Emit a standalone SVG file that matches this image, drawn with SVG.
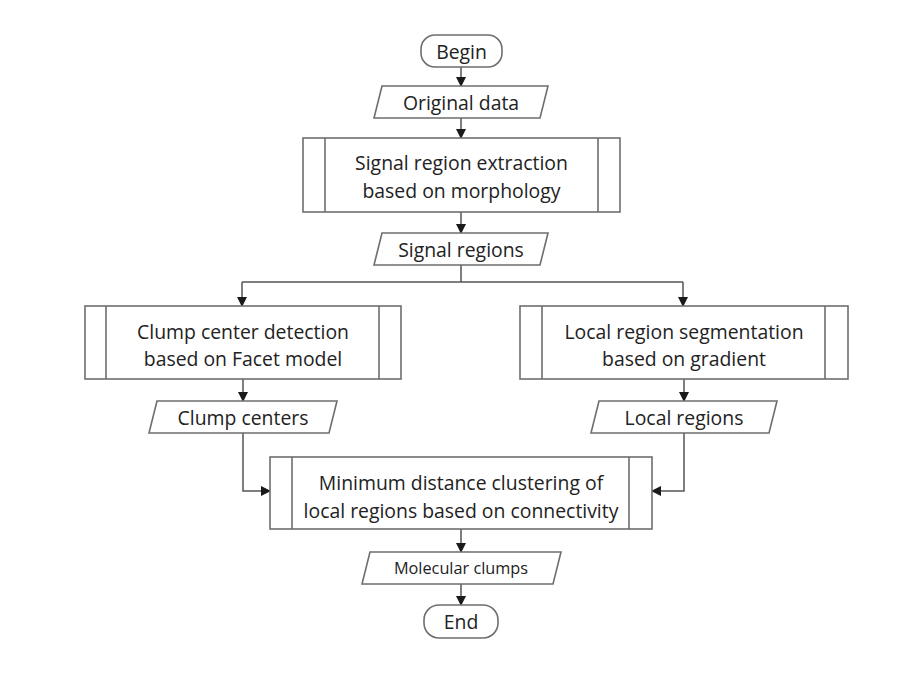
<svg xmlns="http://www.w3.org/2000/svg" width="913" height="685" viewBox="0 0 913 685">
<defs>
<marker id="ah" markerWidth="10" markerHeight="10" refX="9" refY="5" orient="auto" markerUnits="userSpaceOnUse">
<path d="M0,0 L10,5 L0,10 Z" fill="#1a1a1a"/>
</marker>
<style>
.s{fill:#fff;stroke:#6e6e6e;stroke-width:1.6}
.t{font-family:"Open Sans","Noto Sans",sans-serif;font-size:19.4px;fill:#222;text-anchor:middle;dominant-baseline:central}
.ts{font-size:16.3px}
.c{fill:none;stroke:#555;stroke-width:1.5}
</style>
</defs>
<rect width="913" height="685" fill="#fff"/>
<g id="connectors">
<path class="c" d="M461,67 V86" marker-end="url(#ah)"/>
<path class="c" d="M461,118 V138" marker-end="url(#ah)"/>
<path class="c" d="M461,212 V233" marker-end="url(#ah)"/>
<path class="c" d="M461,265 V282"/>
<path class="c" d="M242,282 H683"/>
<path class="c" d="M242,282 V306" marker-end="url(#ah)"/>
<path class="c" d="M683,282 V306" marker-end="url(#ah)"/>
<path class="c" d="M243,379 V401" marker-end="url(#ah)"/>
<path class="c" d="M684,379 V401" marker-end="url(#ah)"/>
<path class="c" d="M243,433 V491 H270" marker-end="url(#ah)"/>
<path class="c" d="M684,433 V491 H652" marker-end="url(#ah)"/>
<path class="c" d="M461,529 V552" marker-end="url(#ah)"/>
<path class="c" d="M461,584 V605" marker-end="url(#ah)"/>
</g>
<g id="begin">
<rect class="s" x="421" y="35" width="81" height="32" rx="14"/>
<text class="t" x="461.5" y="51">Begin</text>
</g>
<g id="original-data">
<path class="s" d="M382,86 H548 L540,118 H374 Z"/>
<text class="t" x="461" y="102">Original data</text>
</g>
<g id="signal-extraction">
<rect class="s" x="303" y="138" width="317" height="74"/>
<path class="s" d="M325,138 V212 M598,138 V212"/>
<text class="t" x="461.5" y="162">Signal region extraction</text>
<text class="t" x="461.5" y="190">based on morphology</text>
</g>
<g id="signal-regions">
<path class="s" d="M382,233 H548 L540,265 H374 Z"/>
<text class="t" x="461" y="249">Signal regions</text>
</g>
<g id="clump-detection">
<rect class="s" x="85" y="306" width="316" height="73"/>
<path class="s" d="M106,306 V379 M379,306 V379"/>
<text class="t" x="243" y="331">Clump center detection</text>
<text class="t" x="243" y="358">based on Facet model</text>
</g>
<g id="local-segmentation">
<rect class="s" x="520" y="306" width="328" height="73"/>
<path class="s" d="M542,306 V379 M825,306 V379"/>
<text class="t" x="684" y="331">Local region segmentation</text>
<text class="t" x="684" y="358">based on gradient</text>
</g>
<g id="clump-centers">
<path class="s" d="M157,401 H337 L329,433 H149 Z"/>
<text class="t" x="243" y="417">Clump centers</text>
</g>
<g id="local-regions">
<path class="s" d="M599,401 H777 L769,433 H591 Z"/>
<text class="t" x="684" y="417">Local regions</text>
</g>
<g id="clustering">
<rect class="s" x="270" y="457" width="382" height="72"/>
<path class="s" d="M292,457 V529 M629,457 V529"/>
<text class="t" x="461" y="482">Minimum distance clustering of</text>
<text class="t" x="461" y="510">local regions based on connectivity</text>
</g>
<g id="molecular-clumps">
<path class="s" d="M370,552 H561 L553,584 H362 Z"/>
<text class="t ts" x="461" y="568">Molecular clumps</text>
</g>
<g id="end">
<rect class="s" x="424" y="605" width="74" height="33" rx="15"/>
<text class="t" x="461" y="621.5">End</text>
</g>
</svg>
